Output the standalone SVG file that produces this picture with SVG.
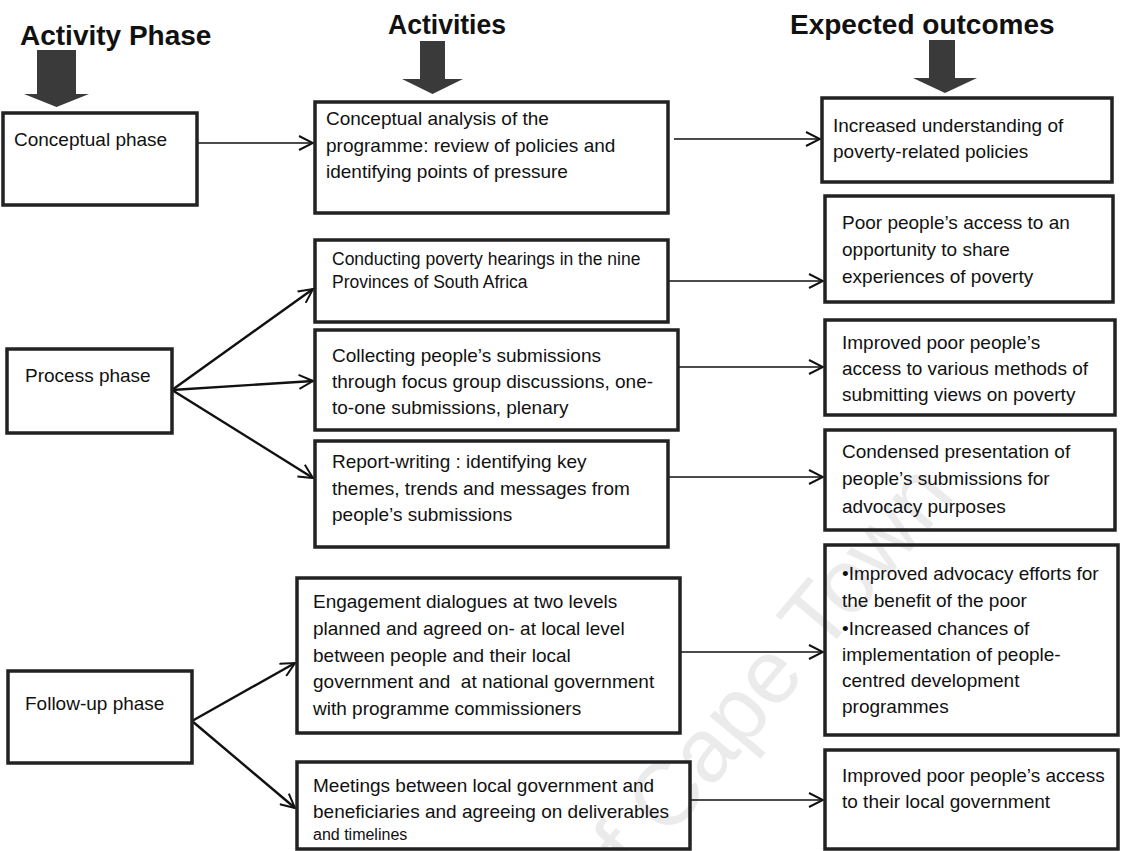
<svg xmlns="http://www.w3.org/2000/svg" width="1121" height="851" viewBox="0 0 1121 851">
<defs>
<marker id="ah" viewBox="0 0 16 16" refX="15" refY="8" markerWidth="16" markerHeight="16" markerUnits="userSpaceOnUse" orient="auto">
<path d="M1,1 L15,8 L1,15" fill="none" stroke="#111" stroke-width="2"/>
</marker>
</defs>
<style>
.box{fill:none;stroke:#222;stroke-width:3.5}
.t{font-family:"Liberation Sans",Arial,sans-serif;font-size:19px;fill:#111}
.s{font-family:"Liberation Sans",Arial,sans-serif;font-size:17.5px;fill:#111}
.h{font-family:"Liberation Sans",Arial,sans-serif;font-size:28px;font-weight:bold;fill:#111}
.big{fill:#3a3a3a}
.c{fill:none;stroke:#111;stroke-width:1.6;marker-end:url(#ah)}
.cb{fill:none;stroke:#111;stroke-width:2.4;marker-end:url(#ah)}
.wm{font-family:"Liberation Sans",Arial,sans-serif;font-size:90px;fill:#ebebeb}
</style>
<rect width="1121" height="851" fill="#fff"/>
<text class="wm" transform="translate(334,1238) rotate(-50)">University of Cape Town</text>

<g id="headers">
<text class="h" x="20" y="45">Activity Phase</text>
<text class="h" x="388" y="34" textLength="118" lengthAdjust="spacingAndGlyphs">Activities</text>
<text class="h" x="790" y="34">Expected outcomes</text>
<polygon class="big" points="37,50 76,50 76,94 89,94 56.5,107 24,94 37,94"/>
<polygon class="big" points="420,41 445,41 445,79 463,79 432.5,94 402,79 420,79"/>
<polygon class="big" points="929,40 955,40 955,78 977,78 945,93 913,78 929,78"/>
</g>

<g id="connectors">
<line class="c" x1="197" y1="143" x2="313" y2="143"/>
<line class="c" x1="674" y1="139" x2="820" y2="139"/>
<line class="cb" x1="172" y1="390" x2="313" y2="289"/>
<line class="cb" x1="172" y1="390" x2="313" y2="381"/>
<line class="cb" x1="172" y1="390" x2="313" y2="478"/>
<line class="c" x1="668" y1="281" x2="823" y2="281"/>
<line class="c" x1="678" y1="367" x2="823" y2="367"/>
<line class="c" x1="668" y1="477" x2="823" y2="477"/>
<line class="cb" x1="192" y1="721" x2="295" y2="663"/>
<line class="cb" x1="192" y1="721" x2="295" y2="808"/>
<line class="c" x1="680" y1="652" x2="823" y2="652"/>
<line class="c" x1="690" y1="800" x2="823" y2="800"/>
</g>

<g id="conceptual-phase">
<rect class="box" x="3" y="113" width="194" height="92"/>
<text class="t" x="14" y="146">Conceptual phase</text>
</g>
<g id="process-phase">
<rect class="box" x="7" y="349" width="165" height="84"/>
<text class="t" x="25" y="382">Process phase</text>
</g>
<g id="followup-phase">
<rect class="box" x="8" y="671" width="184" height="92"/>
<text class="t" x="25" y="710">Follow-up phase</text>
</g>

<g id="act-conceptual">
<rect class="box" x="315" y="102" width="353" height="111"/>
<text class="t" x="326" y="125">Conceptual analysis of the</text>
<text class="t" x="326" y="152">programme: review of policies and</text>
<text class="t" x="326" y="178">identifying points of pressure</text>
</g>
<g id="act-hearings">
<rect class="box" x="315" y="240" width="353" height="82"/>
<text class="s" x="332" y="265">Conducting poverty hearings in the nine</text>
<text class="s" x="332" y="288">Provinces of South Africa</text>
</g>
<g id="act-collecting">
<rect class="box" x="315" y="330" width="363" height="100"/>
<text class="t" x="332" y="362">Collecting people’s submissions</text>
<text class="t" x="332" y="388">through focus group discussions, one-</text>
<text class="t" x="332" y="414">to-one submissions, plenary</text>
</g>
<g id="act-report">
<rect class="box" x="315" y="441" width="353" height="106"/>
<text class="t" x="332" y="468">Report-writing : identifying key</text>
<text class="t" x="332" y="495">themes, trends and messages from</text>
<text class="t" x="332" y="521">people’s submissions</text>
</g>
<g id="act-engagement">
<rect class="box" x="297" y="578" width="383" height="155"/>
<text class="t" x="313" y="608">Engagement dialogues at two levels</text>
<text class="t" x="313" y="635">planned and agreed on- at local level</text>
<text class="t" x="313" y="662">between people and their local</text>
<text class="t" x="313" y="688" style="white-space:pre">government and  at national government</text>
<text class="t" x="313" y="715">with programme commissioners</text>
</g>
<g id="act-meetings">
<rect class="box" x="297" y="762" width="393" height="87"/>
<text class="t" x="313" y="792">Meetings between local government and</text>
<text class="t" x="313" y="818">beneficiaries and agreeing on deliverables</text>
<text class="s" x="313" y="840" style="font-size:16px">and timelines</text>
</g>

<g id="out-understanding">
<rect class="box" x="822" y="98" width="290" height="84"/>
<text class="t" x="833" y="132">Increased understanding of</text>
<text class="t" x="833" y="158">poverty-related policies</text>
</g>
<g id="out-share">
<rect class="box" x="825" y="196" width="288" height="106"/>
<text class="t" x="842" y="229">Poor people’s access to an</text>
<text class="t" x="842" y="256">opportunity to share</text>
<text class="t" x="842" y="283">experiences of poverty</text>
</g>
<g id="out-methods">
<rect class="box" x="825" y="320" width="290" height="95"/>
<text class="t" x="842" y="349">Improved poor people’s</text>
<text class="t" x="842" y="375">access to various methods of</text>
<text class="t" x="842" y="401">submitting views on poverty</text>
</g>
<g id="out-condensed">
<rect class="box" x="825" y="430" width="290" height="100"/>
<text class="t" x="842" y="458">Condensed presentation of</text>
<text class="t" x="842" y="485">people’s submissions for</text>
<text class="t" x="842" y="513">advocacy purposes</text>
</g>
<g id="out-advocacy">
<rect class="box" x="825" y="545" width="293" height="190"/>
<text class="t" x="842" y="580">•Improved advocacy efforts for</text>
<text class="t" x="842" y="607">the benefit of the poor</text>
<text class="t" x="842" y="635">•Increased chances of</text>
<text class="t" x="842" y="661">implementation of people-</text>
<text class="t" x="842" y="687">centred development</text>
<text class="t" x="842" y="713">programmes</text>
</g>
<g id="out-localgov">
<rect class="box" x="825" y="750" width="293" height="99"/>
<text class="t" x="842" y="782">Improved poor people’s access</text>
<text class="t" x="842" y="808">to their local government</text>
</g>
</svg>
